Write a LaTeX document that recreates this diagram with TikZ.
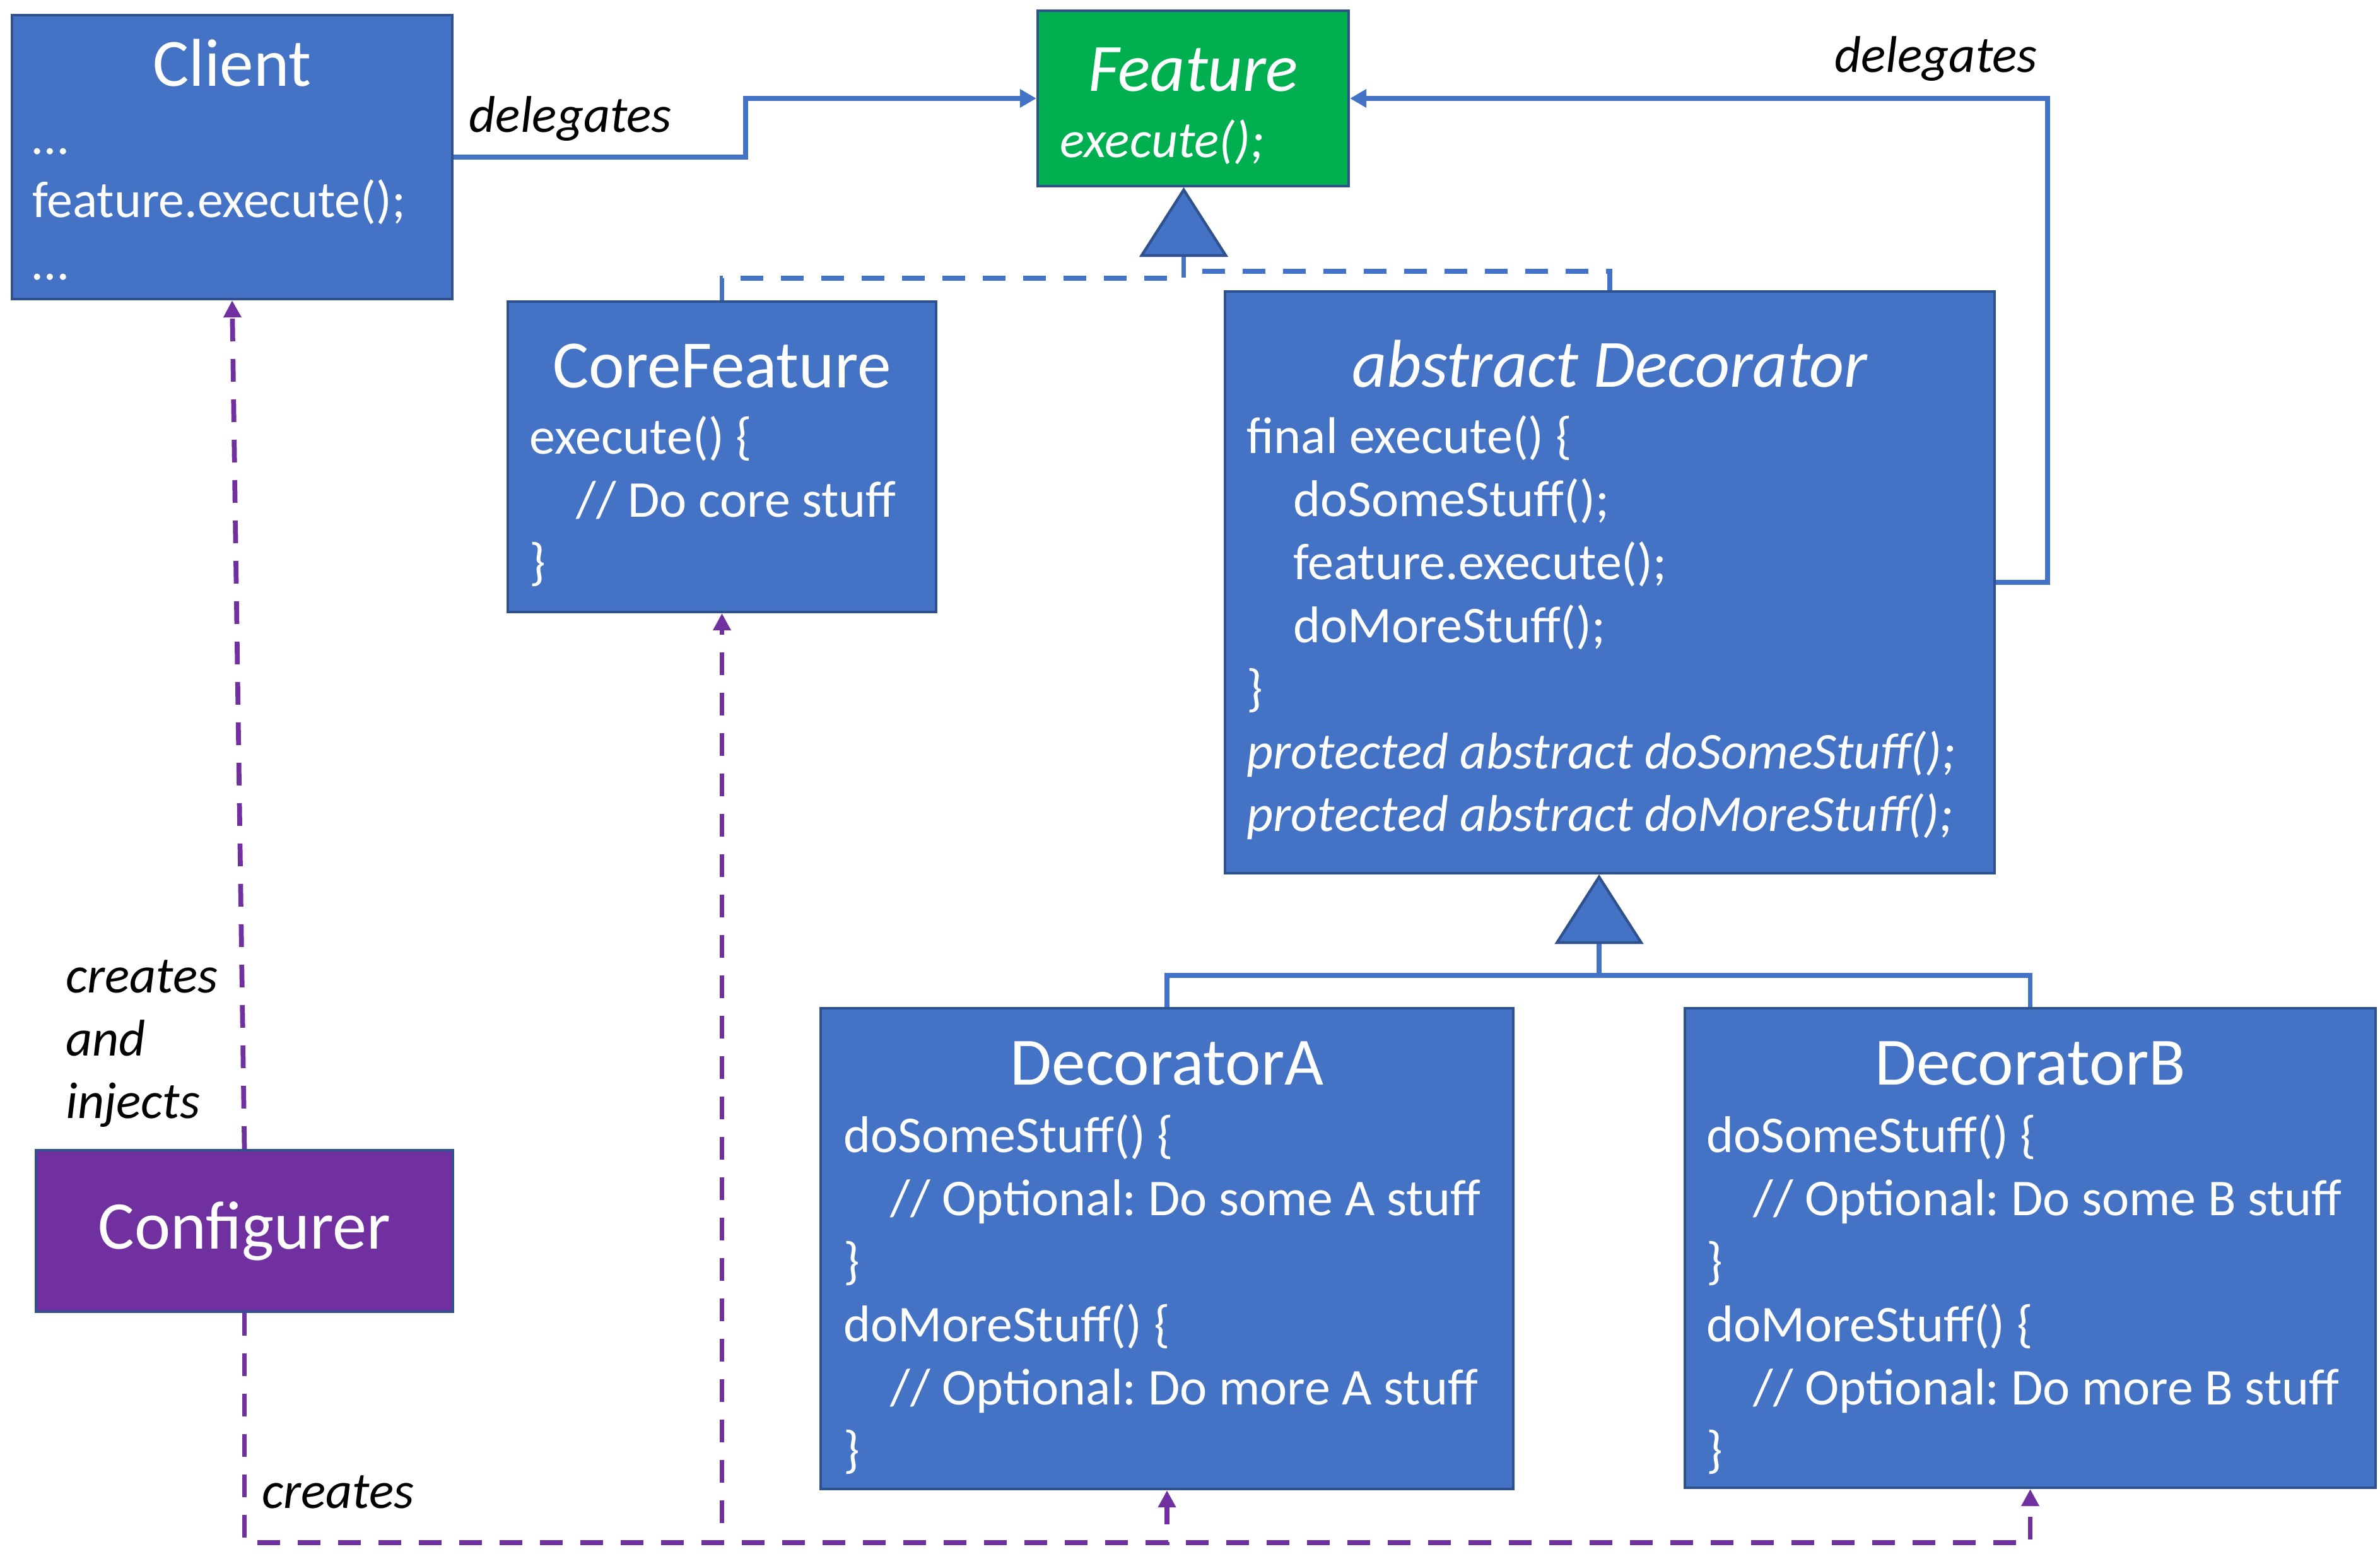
\documentclass[tikz,border=0pt]{standalone}
\usepackage{fontspec}
\setmainfont{Carlito}
\usetikzlibrary{arrows.meta,positioning}
\definecolor{BoxBlue}{RGB}{68,114,196}
\definecolor{EdgeBlue}{RGB}{47,82,143}
\definecolor{FeatGreen}{RGB}{0,176,80}
\definecolor{ConfPurple}{RGB}{112,48,160}
\newcommand{\codeindent}{\hspace*{0.74cm}}
\frenchspacing

\begin{document}
\begin{tikzpicture}[
      boxNode/.style={draw=EdgeBlue,fill=BoxBlue,line width=1.2pt,inner sep=0pt},
      titleTxt/.style={text=white,inner sep=0pt,anchor=base,font=\fontsize{30.5}{37}\selectfont},
      bodyTxt/.style={text=white,inner sep=0pt,anchor=base west,align=left,
                      font=\fontsize{23.3}{28.4}\selectfont},
      lblTxt/.style={inner sep=0pt,text=black,font=\fontsize{23.3}{28.4}\selectfont\itshape},
      delegLine/.style={-{Triangle[length=0.26cm,width=0.28cm]},line width=2.2pt,color=BoxBlue},
      inhLine/.style={-{Triangle[length=1.1cm,width=1.4cm,fill=BoxBlue,color=EdgeBlue,line width=1.2pt]},
                      line width=2.2pt,color=BoxBlue},
      implLine/.style={inhLine,dash pattern=on 0.36cm off 0.28cm},
      makeLine/.style={-{Triangle[length=0.27cm,width=0.27cm]},line width=2.2pt,color=ConfPurple,
                       dash pattern=on 0.36cm off 0.28cm}
    ]
    \useasboundingbox (0,0) rectangle (37.73,24.63);

    % Boxes
    \node (client)[boxNode,minimum width=6.98cm,minimum height=4.50cm] at (3.68,22.14) {};
    \node (feature)[boxNode,fill=FeatGreen,minimum width=4.93cm,minimum height=2.78cm] at (18.915,23.07) {};
    \node (core)[boxNode,minimum width=6.79cm,minimum height=4.92cm] at (11.445,17.39) {};
    \node (deco)[boxNode,minimum width=12.20cm,minimum height=9.22cm] at (25.52,15.40) {};
    \node (decoA)[boxNode,minimum width=10.98cm,minimum height=7.62cm] at (18.50,4.84) {};
    \node (decoB)[boxNode,minimum width=10.95cm,minimum height=7.60cm] at (32.185,4.85) {};
    \node (configurer)[boxNode,fill=ConfPurple,minimum width=6.61cm,minimum height=2.56cm,
                       text=white,font=\fontsize{30.8}{37}\selectfont] at (3.875,5.12) {Configurer};

    % Titles
    \node (clientT)[titleTxt] at ([yshift=-1.15cm]client.north) {Client};
    \node (featureT)[titleTxt,font=\fontsize{30.5}{37}\selectfont\itshape] at ([yshift=-1.30cm]feature.north) {Feature};
    \node (coreT)[titleTxt] at ([yshift=-1.39cm]core.north) {CoreFeature};
    \node (decoT)[titleTxt,font=\fontsize{30.5}{37}\selectfont\itshape] at ([yshift=-1.54cm]deco.north) {abstract Decorator};
    \node (decoAT)[titleTxt] at ([yshift=-1.24cm]decoA.north) {DecoratorA};
    \node (decoBT)[titleTxt] at ([yshift=-1.24cm]decoB.north) {DecoratorB};

    % Code lines (anchored on the baseline of the last line)
    \node (clientB)[bodyTxt] at ([xshift=0.34cm,yshift=-4.22cm]client.north west)
      {…\\feature.execute();\\…};
    \node (featureB)[bodyTxt,font=\fontsize{23.3}{28.4}\selectfont\itshape] at ([xshift=0.37cm,yshift=-2.35cm]feature.north west)
      {execute();};
    \node (coreB)[bodyTxt] at ([xshift=0.36cm,yshift=-4.43cm]core.north west)
      {execute() \{\\\codeindent// Do core stuff\\\}};
    \node (decoB0)[bodyTxt] at ([xshift=0.36cm,yshift=-8.58cm]deco.north west)
      {final execute() \{\\\codeindent doSomeStuff();\\\codeindent feature.execute();\\\codeindent doMoreStuff();\\\}\\
       \textit{protected abstract doSomeStuff();}\\\textit{protected abstract doMoreStuff();}};
    \node (decoAB)[bodyTxt] at ([xshift=0.38cm,yshift=-7.30cm]decoA.north west)
      {doSomeStuff() \{\\\codeindent// Optional: Do some A stuff\\\}\\doMoreStuff() \{\\\codeindent// Optional: Do more A stuff\\\}};
    \node (decoBB)[bodyTxt] at ([xshift=0.36cm,yshift=-7.30cm]decoB.north west)
      {doSomeStuff() \{\\\codeindent// Optional: Do some B stuff\\\}\\doMoreStuff() \{\\\codeindent// Optional: Do more B stuff\\\}};

    % Delegation
    \draw[delegLine] (client.east) -- node[lblTxt,above=0.22cm,pos=0.4] (delegL) {delegates} ++(4.63,0) |- (feature.west);
    \draw[delegLine] (deco.east) -- ++(0.82,0) |- node[lblTxt,above=0.24cm,pos=0.58] (delegR) {delegates} (feature.east);

    % Inheritance
    \draw[implLine] (core.north) -- ++(0,0.35) -| ([xshift=-0.15cm]feature.south);
    \draw[implLine] (deco.north) -- ++(0,0.30) -| ([xshift=-0.15cm]feature.south);
    \draw[inhLine] (decoA.north) -- ++(0,0.50) -| ([xshift=-0.17cm]deco.south);
    \draw[inhLine] (decoB.north) -- ++(0,0.50) -| ([xshift=-0.17cm]deco.south);

    % Creation by the configurer
    \draw[makeLine] (configurer.north) -- node[lblTxt,left=0.36cm,pos=0.124,align=left] (injectLbl)
      {creates\\and\\injects} (client.south);
    \draw[makeLine] (configurer.south) -- ++(0,-3.64) node[lblTxt,above right=0.50cm and 0.24cm] (createLbl) {creates} -| (core.south);
    \draw[makeLine] (configurer.south) -- ++(0,-3.64) -| (decoA.south);
    \draw[makeLine] (configurer.south) -- ++(0,-3.64) -| (decoB.south);
  \end{tikzpicture}
\end{document}
